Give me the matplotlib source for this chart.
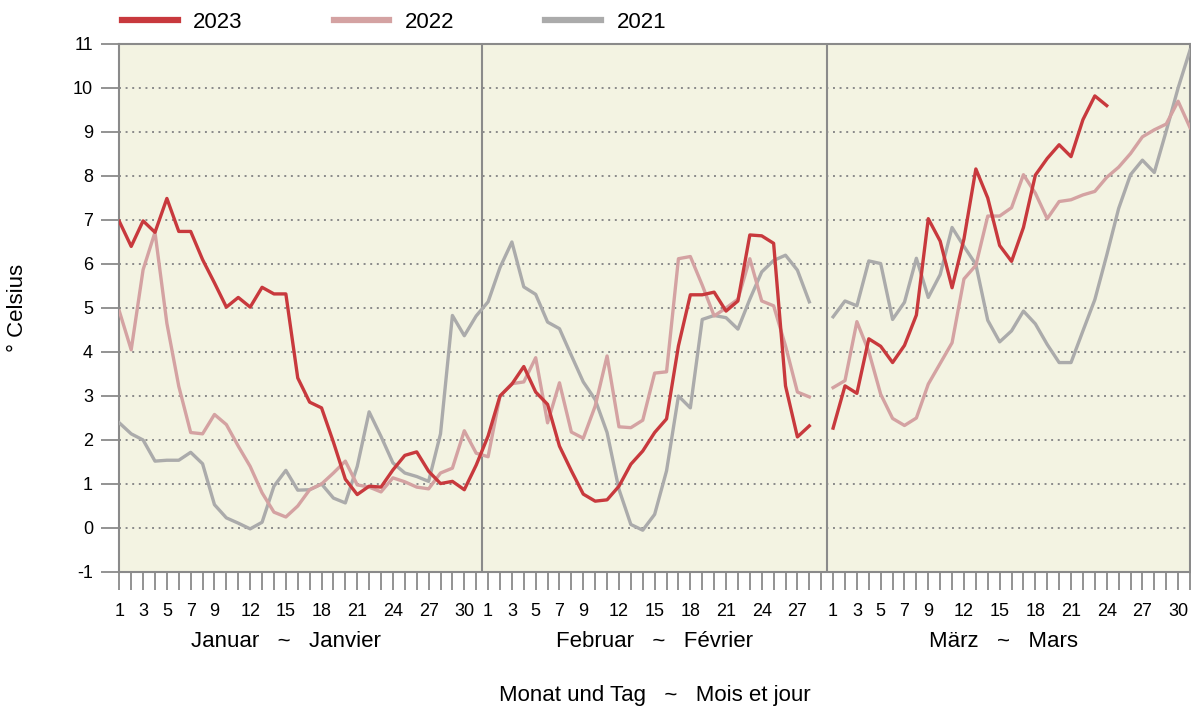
import numpy as np
import matplotlib
matplotlib.use("Agg")
import matplotlib.pyplot as plt
from matplotlib.lines import Line2D
from matplotlib.transforms import blended_transform_factory

plt.rcParams['font.family'] = ['Liberation Sans', 'DejaVu Sans']
plt.rcParams['axes.unicode_minus'] = False

# daily mean temperature, deg C (Feb has a 29th slot that stays empty)
month_names = ["Januar   ~   Janvier", "Februar   ~   Février", "März   ~   Mars"]
month_slots = [31, 29, 31]
labelled_days = [1, 3, 5, 7, 9, 12, 15, 18, 21, 24, 27, 30]
years = ["2023", "2022", "2021"]

t2023_jan = [6.97, 6.40, 6.98, 6.72, 7.49, 6.74, 6.74, 6.10, 5.57, 5.02,
             5.24, 5.02, 5.47, 5.32, 5.32, 3.41, 2.86, 2.73, 1.95, 1.11,
             0.76, 0.95, 0.93, 1.32, 1.65, 1.73, 1.29, 1.01, 1.06, 0.87, 1.43]
t2023_feb = [2.09, 3.00, 3.27, 3.67, 3.09, 2.81, 1.86, 1.30, 0.77, 0.61,
             0.64, 0.95, 1.45, 1.75, 2.17, 2.48, 4.14, 5.30, 5.30, 5.36,
             4.93, 5.16, 6.66, 6.64, 6.47, 3.23, 2.07, 2.32]
t2023_mar = [2.27, 3.23, 3.06, 4.30, 4.13, 3.76, 4.15, 4.84, 7.03, 6.52,
             5.46, 6.57, 8.16, 7.50, 6.42, 6.06, 6.83, 8.02, 8.40, 8.71,
             8.44, 9.28, 9.82, 9.60]

t2022_jan = [4.93, 4.05, 5.87, 6.72, 4.65, 3.22, 2.17, 2.14, 2.58, 2.35,
             1.86, 1.40, 0.80, 0.36, 0.25, 0.50, 0.87, 1.00, 1.25, 1.52,
             0.98, 0.93, 0.82, 1.14, 1.05, 0.93, 0.89, 1.25, 1.36, 2.21, 1.70]
t2022_feb = [1.62, 3.00, 3.28, 3.32, 3.87, 2.39, 3.30, 2.18, 2.04, 2.77,
             3.91, 2.30, 2.28, 2.45, 3.52, 3.55, 6.12, 6.17, 5.52, 4.82,
             5.00, 5.20, 6.12, 5.16, 5.05, 4.14, 3.09, 2.98]
t2022_mar = [3.19, 3.35, 4.69, 4.01, 3.04, 2.49, 2.33, 2.50, 3.27, 3.74,
             4.21, 5.66, 5.97, 7.09, 7.09, 7.28, 8.03, 7.61, 7.03, 7.42,
             7.46, 7.57, 7.65, 7.97, 8.20, 8.51, 8.89, 9.05, 9.18, 9.70, 9.10]

t2021_jan = [2.39, 2.14, 2.00, 1.52, 1.54, 1.54, 1.72, 1.46, 0.53, 0.23,
             0.11, -0.02, 0.13, 0.95, 1.31, 0.86, 0.87, 1.00, 0.68, 0.57,
             1.40, 2.64, 2.08, 1.48, 1.25, 1.17, 1.06, 2.14, 4.83, 4.37, 4.82]
t2021_feb = [5.14, 5.92, 6.50, 5.48, 5.31, 4.68, 4.53, 3.92, 3.32, 2.92,
             2.17, 0.88, 0.08, -0.05, 0.31, 1.30, 3.00, 2.73, 4.74, 4.83,
             4.78, 4.52, 5.20, 5.82, 6.08, 6.20, 5.86, 5.14]
t2021_mar = [4.80, 5.16, 5.05, 6.07, 6.01, 4.74, 5.13, 6.13, 5.24, 5.76,
             6.83, 6.40, 5.99, 4.72, 4.23, 4.48, 4.93, 4.64, 4.17, 3.76,
             3.76, 4.48, 5.19, 6.20, 7.26, 8.03, 8.36, 8.08, 9.02, 10.00, 10.86]

colors = ['#C8393D', '#D4A2A2', '#ABABAB']
grid_col = '#8a8a8a'


def series(*months):
    out = []
    for vals, n in zip(months, month_slots):
        out += list(vals) + [np.nan] * (n - len(vals))
    return np.array(out, dtype=float)


data = {
    "2023": series(t2023_jan, t2023_feb, t2023_mar),
    "2022": series(t2022_jan, t2022_feb, t2022_mar),
    "2021": series(t2021_jan, t2021_feb, t2021_mar),
}
x = np.arange(sum(month_slots))

fig = plt.figure(figsize=(11.91, 7.07), dpi=100)
ax = fig.add_axes([119.3 / 1191, 1 - 572 / 707, (1190 - 119.3) / 1191, 528 / 707])
ax.set_facecolor('#F3F3E2')
ax.set_xlim(0, x[-1])
ax.set_ylim(-1, 11)

for v in range(0, 11):
    ax.axhline(v, color=grid_col, lw=1.4, ls=(0, (1, 2.4)), zorder=1)

# month separators
starts = np.cumsum([0] + month_slots[:-1])
for s in starts[1:]:
    ax.axvline(s - 0.5, color=grid_col, lw=1.5, zorder=2)

# draw oldest first so 2023 sits on top
for yr, c in zip(years[::-1], colors[::-1]):
    ax.plot(x, data[yr], color=c, lw=2.4, zorder=3)

for sp in ax.spines.values():
    sp.set_color(grid_col)
    sp.set_linewidth(1.5)

ticklabels = []
for n in month_slots:
    for d in range(1, n + 1):
        ticklabels.append(str(d) if d in labelled_days and not (n == 29 and d > 27) else "")
ax.set_xticks(x)
ax.set_xticklabels(ticklabels)
ax.set_yticks(range(-1, 12))
ax.tick_params(axis='x', length=13, width=1.3, color=grid_col, pad=9, labelsize=13)
ax.tick_params(axis='y', length=13, width=1.3, color=grid_col, pad=6, labelsize=13)

trans = blended_transform_factory(ax.transData, ax.transAxes)
month_centres = [14, 45, 74.3]
for name, xc in zip(month_names, month_centres):
    ax.text(xc, -0.131, name, transform=trans, ha='center', va='center', fontsize=16)

fig.text(655 / 1191, 1 - 695 / 707, "Monat und Tag   ~   Mois et jour",
         ha='center', va='center', fontsize=16)
fig.text(18 / 1191, 1 - 308 / 707, "° Celsius", rotation=90,
         ha='center', va='center', fontsize=16)

handles = [Line2D([], [], color=c, lw=4.5) for c in colors]
fig.legend(handles, years, loc='center left', bbox_to_anchor=(122 / 1191, 1 - 22 / 707),
           ncol=3, frameon=False, fontsize=16, handlelength=2.5, handletextpad=0.7,
           columnspacing=4.1, borderaxespad=0, borderpad=0)

fig.savefig("out.png", dpi=100)
